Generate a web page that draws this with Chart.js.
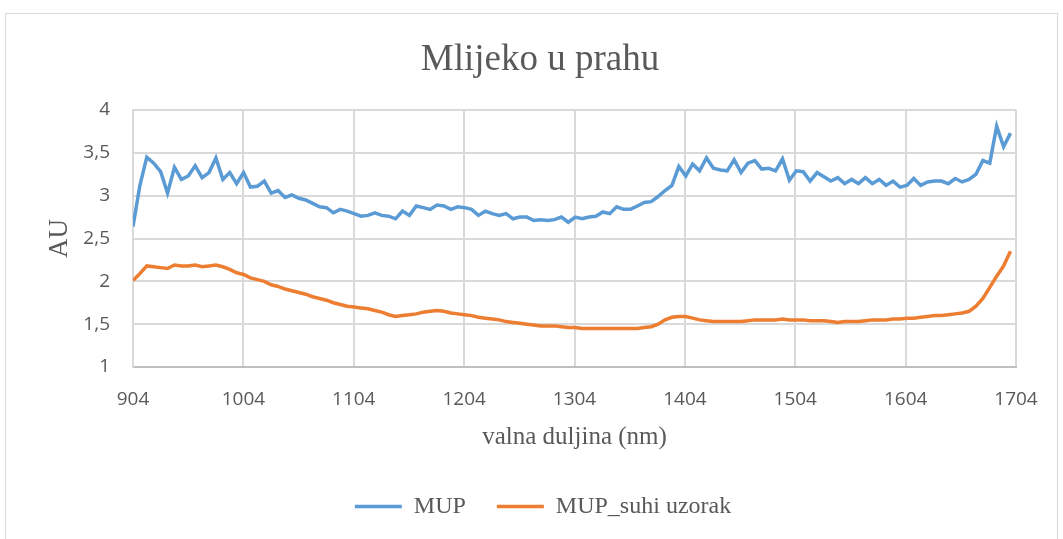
<!DOCTYPE html>
<html>
<head>
<meta charset="utf-8">
<script src="https://cdn.jsdelivr.net/npm/chart.js@4.4.0/dist/chart.umd.min.js"></script>
<style>
  html, body { margin: 0; padding: 0; background: #fff; }
  #frame { position: absolute; left: 5px; top: 13px; width: 1051px; height: 600px; border: 1px solid #d9d9d9; }
  #wrap { position: absolute; left: 0; top: 0; width: 1063px; height: 539px; }
</style>
</head>
<body>
<div id="frame"></div>
<div id="wrap"><canvas id="spectrum" width="1063" height="539"></canvas></div>
<script>
'use strict'

// wavelength grid of the spectrometer (nm)
var startNm = 904;
var stepNm = 6.26;

var xTicks = [904, 1004, 1104, 1204, 1304, 1404, 1504, 1604, 1704];
var yTicks = [1, 1.5, 2, 2.5, 3, 3.5, 4];

var seriesNames = ['MUP', 'MUP_suhi uzorak'];

var mup = [
  2.64, 3.12, 3.45, 3.38, 3.28, 3.03, 3.33, 3.19, 3.23, 3.35,
  3.21, 3.27, 3.44, 3.19, 3.27, 3.14, 3.27, 3.10, 3.11, 3.17,
  3.03, 3.06, 2.98, 3.01, 2.97, 2.95, 2.91, 2.87, 2.86,
  2.80, 2.84, 2.82, 2.79, 2.76, 2.77, 2.80, 2.77, 2.76, 2.73,
  2.82, 2.77, 2.88, 2.86, 2.84, 2.89, 2.88, 2.84, 2.87, 2.86,
  2.84, 2.77, 2.82, 2.79, 2.77, 2.79, 2.73, 2.75, 2.75, 2.71,
  2.72, 2.71, 2.72,
  2.75, 2.69, 2.75, 2.73, 2.75, 2.76, 2.81, 2.79, 2.87, 2.84,
  2.84, 2.88, 2.92, 2.93, 2.99, 3.06, 3.12, 3.34, 3.23, 3.37,
  3.29, 3.44, 3.32, 3.30, 3.29, 3.42, 3.27, 3.38, 3.41, 3.31,
  3.32,
  3.29, 3.43, 3.18, 3.29, 3.28, 3.17, 3.27, 3.22, 3.17, 3.21,
  3.14, 3.19, 3.14, 3.21, 3.14, 3.19, 3.12, 3.17, 3.10, 3.12,
  3.20, 3.12, 3.16, 3.17, 3.17, 3.14, 3.20, 3.16, 3.19, 3.25,
  3.41, 3.38, 3.81, 3.57, 3.73
];

var mupSuhi = [
  2.01, 2.09, 2.18, 2.17, 2.16, 2.15, 2.19, 2.18, 2.18, 2.19,
  2.17, 2.18, 2.19, 2.17, 2.14, 2.10, 2.08, 2.04, 2.02, 2.00,
  1.96, 1.94, 1.91, 1.89, 1.87, 1.85, 1.82, 1.80, 1.78, 1.75,
  1.73, 1.71, 1.70, 1.69, 1.68, 1.66, 1.64, 1.61, 1.59, 1.60,
  1.61, 1.62, 1.64, 1.65, 1.66, 1.65, 1.63, 1.62, 1.61, 1.60,
  1.58, 1.57, 1.56, 1.55, 1.53, 1.52, 1.51, 1.50, 1.49, 1.48,
  1.48, 1.48, 1.47, 1.46, 1.46, 1.45, 1.45, 1.45, 1.45, 1.45,
  1.45, 1.45, 1.45, 1.45, 1.46, 1.47, 1.50, 1.55, 1.58, 1.59,
  1.59, 1.57, 1.55, 1.54, 1.53, 1.53, 1.53, 1.53, 1.53, 1.54,
  1.55, 1.55, 1.55, 1.55, 1.56, 1.55, 1.55, 1.55, 1.54, 1.54,
  1.54, 1.53, 1.52, 1.53, 1.53, 1.53, 1.54, 1.55, 1.55, 1.55,
  1.56, 1.56, 1.57, 1.57, 1.58, 1.59, 1.60, 1.60, 1.61, 1.62,
  1.63, 1.65, 1.71, 1.80, 1.93, 2.06, 2.18, 2.35
];

var wavelengths = mup.map(function (v, i) { return startNm + i * stepNm; });

function toPoints(values) {
  return values.map(function (v, i) { return { x: wavelengths[i], y: v }; });
}

var gray = '#595959';
var gridGray = '#d9d9d9';
var serif = "'Liberation Serif', 'Times New Roman', serif";
var sans = "'Open Sans', 'Noto Sans', sans-serif";

// title and legend sit a little right of the plot centre in the original
var nudgeBlocks = {
  id: 'nudgeBlocks',
  afterLayout: function (chart) {
    if (chart.titleBlock) {
      chart.titleBlock.left += 10;
      chart.titleBlock.right += 10;
    }
    if (chart.legend) {
      chart.legend.left += 13;
      chart.legend.right += 13;
    }
  }
};

var spectrum = document.getElementById('spectrum');

var spectrumChart = new Chart(spectrum, {
  type: 'line',
  data: {
    datasets: [
      {
        label: seriesNames[0],
        data: toPoints(mup),
        borderColor: '#5B9BD5',
        backgroundColor: '#5B9BD5',
        borderWidth: 3.5,
        pointRadius: 0,
        tension: 0
      },
      {
        label: seriesNames[1],
        data: toPoints(mupSuhi),
        borderColor: '#ED7D31',
        backgroundColor: '#ED7D31',
        borderWidth: 3.5,
        pointRadius: 0,
        tension: 0
      }]
  },
  plugins: [nudgeBlocks],
  options: {
    responsive: false,
    animation: false,
    layout: {
      padding: { left: 44, right: 47, top: 0, bottom: 10.5 }
    },
    scales: {
      x: {
        type: 'linear',
        min: xTicks[0],
        max: xTicks[xTicks.length - 1],
        afterBuildTicks: function (scale) {
          scale.ticks = xTicks.map(function (v) { return { value: v }; });
        },
        afterFit: function (scale) { scale.height = 96.5; },
        ticks: {
          color: gray,
          padding: 21,
          maxRotation: 0,
          autoSkip: false,
          font: { family: sans, size: 19 },
          callback: function (v) { return String(v); }
        },
        grid: { color: gridGray, lineWidth: 2, drawTicks: false },
        border: { color: '#bfbfbf', width: 2 },
        title: {
          display: true,
          text: 'valna duljina (nm)',
          color: gray,
          font: { family: serif, size: 25 },
          padding: { top: 0, bottom: 11.5 }
        }
      },
      y: {
        min: yTicks[0],
        max: yTicks[yTicks.length - 1],
        afterBuildTicks: function (scale) {
          scale.ticks = yTicks.map(function (v) { return { value: v }; });
        },
        afterFit: function (scale) { scale.width = 89; },
        ticks: {
          color: gray,
          padding: 23,
          font: { family: sans, size: 19 },
          callback: function (v) { return String(v).replace('.', ','); }
        },
        grid: { color: gridGray, lineWidth: 2, drawTicks: false },
        border: { color: gridGray, width: 2 },
        title: {
          display: true,
          text: 'AU',
          color: gray,
          font: { family: serif, size: 27 },
          padding: { top: 0, bottom: 0 }
        }
      }
    },
    plugins: {
      title: {
        display: true,
        text: 'Mlijeko u prahu',
        color: gray,
        font: { family: serif, size: 37, weight: 'normal' },
        padding: { top: 38, bottom: 27.6 }
      },
      legend: {
        position: 'bottom',
        labels: {
          color: gray,
          font: { family: serif, size: 24 },
          usePointStyle: true,
          pointStyle: 'line',
          pointStyleWidth: 47,
          padding: 31
        }
      },
      tooltip: { enabled: false }
    }
  }
});
</script>
</body>
</html>
